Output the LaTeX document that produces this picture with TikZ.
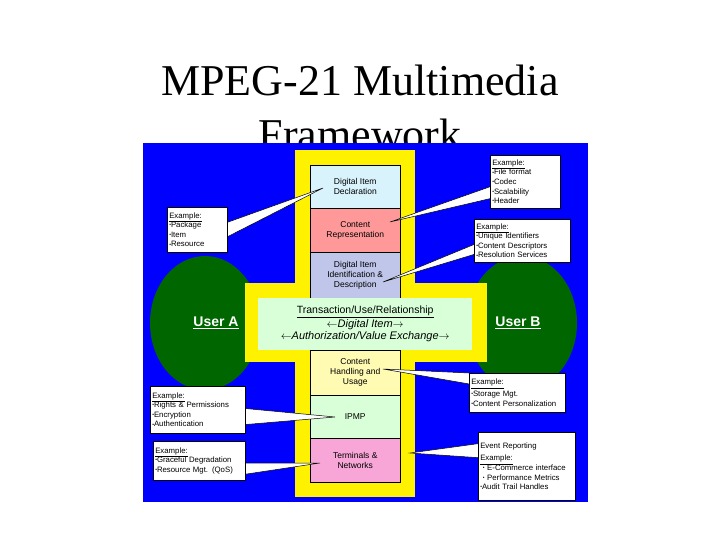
\documentclass[tikz,border=0pt]{standalone}
\usepackage{fontspec}
\setmainfont{Liberation Sans}
\newfontfamily\tnr{Liberation Serif}
\newcommand{\bl}{{\fontsize{5}{5}\selectfont\raisebox{0.8pt}{•}}}
\begin{document}
\begin{tikzpicture}[x=1pt,y=-1pt,
  lay/.style={draw=black,line width=0.5pt,minimum width=90pt,align=center,font=\fontsize{8.5}{10}\selectfont,anchor=north west,inner sep=1pt},
  cbox/.style={draw=black,fill=white,line width=0.5pt,align=left,anchor=north west,font=\fontsize{7.8}{9.6}\selectfont,inner xsep=2pt,inner ysep=1.5pt},
  wedge/.style={draw=black,fill=white,line width=0.5pt},
  user/.style={font=\bfseries\fontsize{14}{15}\selectfont,text=white}]
\useasboundingbox (0,0) rectangle (720,540);
\fill[white] (0,0) rectangle (720,540);
\node[font=\tnr\fontsize{44}{54}\selectfont,align=center] (title) at (360,107) {MPEG-21 Multimedia\\Framework};
\fill[blue] (143,143) rectangle (588,502);
% ellipses
\fill[green!40!black] (205,323) ellipse (55 and 67);
\fill[green!40!black] (522,323) ellipse (55 and 67);
\node[user] (ua) at (216,323) {\underline{User A}};
\node[user] (ub) at (518,323) {\underline{User B}};
% yellow cross
\fill[yellow] (295,150) rectangle (415,497);
\fill[yellow] (245,283) rectangle (487,362);
% layers
\node[lay,fill=cyan!15,minimum height=43pt] (did) at (310,165) {Digital Item\\Declaration};
\node[lay,fill=red!40,minimum height=44pt] (cr) at (310,208) {Content\\Representation};
\node[lay,fill=cyan!35!blue!25,minimum height=46pt] (dii) at (310,252) {Digital Item\\Identification \&\\Description};
\node[lay,fill=yellow!30,minimum height=45pt] (chu) at (310,350) {Content\\Handling and\\Usage};
\node[lay,fill=green!15,minimum height=43pt] (ipmp) at (310,395) {IPMP};
\node[lay,fill=magenta!35,minimum height=44pt] (tn) at (310,438) {Terminals \&\\Networks};
\node[fill=green!15,minimum width=214pt,minimum height=52pt,anchor=north west,align=center,inner sep=1pt] (tr) at (258,298)
 {{\fontsize{10.5}{12}\selectfont\underline{Transaction/Use/Relationship}}\\[1pt]
  {\itshape\fontsize{11}{13}\selectfont $\leftarrow$Digital Item$\rightarrow$}\\
  {\itshape\fontsize{11}{13}\selectfont $\leftarrow$Authorization/Value Exchange$\rightarrow$}};
% callouts
\coordinate (p1) at (323,188);
\coordinate (p2) at (390,222);
\coordinate (p3) at (383,282);
\coordinate (p4) at (383,369);
\coordinate (p5) at (335,417);
\coordinate (p6) at (320,463);
\coordinate (p7) at (410,453);
\draw[wedge] (220,225) -- (p1) -- (225,238) -- cycle;
\node[cbox,text width=56pt,minimum height=45pt] (c1) at (167,207) {\underline{Example:}\\\bl Package\\\bl Item\\\bl Resource};
\draw[wedge] (495,185) -- (p2) -- (497,197) -- cycle;
\node[cbox,text width=66pt,minimum height=53pt] (c2) at (490,155) {\underline{Example:}\\\bl File format\\\bl Codec\\\bl Scalability\\\bl Header};
\draw[wedge] (480,242) -- (p3) -- (482,252) -- cycle;
\node[cbox,text width=92pt,minimum height=43pt] (c3) at (474,219) {\underline{Example:}\\\bl Unique Identifiers\\\bl Content Descriptors\\\bl Resolution Services};
\draw[wedge] (469,373) -- (p4) -- (475,385) -- cycle;
\node[cbox,text width=92pt,minimum height=39pt] (c4) at (469,373) {\underline{Example:}\\[2pt]\bl Storage Mgt.\\\bl Content Personalization};
\draw[wedge] (240,408) -- (p5) -- (240,425) -- cycle;
\node[cbox,text width=91pt,minimum height=47pt] (c5) at (150,386) {\underline{Example:}\\\bl Rights \& Permissions\\\bl Encryption\\\bl Authentication};
\draw[wedge] (240,463) -- (p6) -- (240,475) -- cycle;
\node[cbox,text width=88pt,minimum height=39pt] (c6) at (153,441) {\underline{Example:}\\\bl Graceful Degradation\\\bl Resource Mgt. (QoS)};
\draw[wedge] (483,443) -- (p7) -- (483,458) -- cycle;
\node[cbox,text width=93pt,minimum height=68pt] (c7) at (478,432) {Event Reporting\\[3pt]\underline{Example:}\\\ \bl\ E-Commerce interface\\\ \bl\ Performance Metrics\\\bl Audit Trail Handles};
\end{tikzpicture}
\end{document}
